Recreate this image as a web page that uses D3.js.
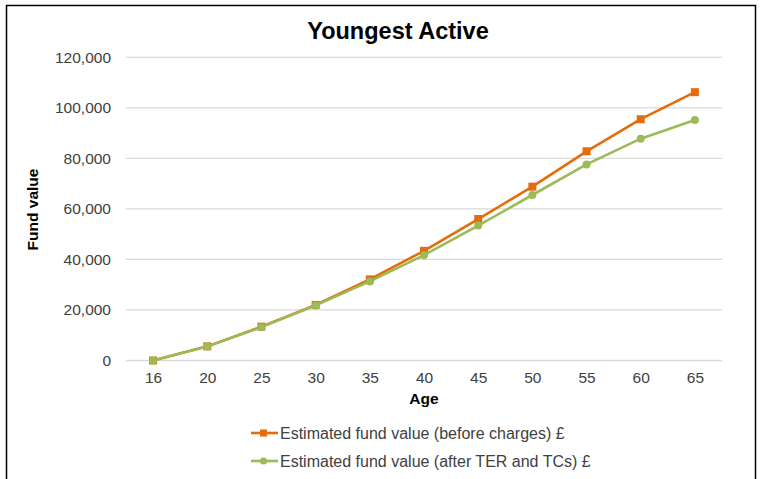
<!DOCTYPE html>
<html>
<head>
<meta charset="utf-8">
<script src="https://cdn.jsdelivr.net/npm/d3@7"></script>
<style>
  html, body { margin: 0; padding: 0; background: #fff; }
  svg { display: block; font-family: "Liberation Sans", Arial, sans-serif; }
</style>
</head>
<body>
<svg id="chart" width="761" height="479"></svg>
<script>
const chartTitle = "Youngest Active";
const xTitle = "Age";
const yTitle = "Fund value";
const ages = ["16", "20", "25", "30", "35", "40", "45", "50", "55", "60", "65"];
const beforeCharges = [0, 5600, 13400, 22000, 32100, 43400, 56000, 68800, 82800, 95500, 106200];
const afterCharges = [0, 5500, 13200, 21800, 31300, 41700, 53400, 65500, 77600, 87800, 95200];
const yTicks = [0, 20000, 40000, 60000, 80000, 100000, 120000];
const seriesNames = ["Estimated fund value (before charges) £", "Estimated fund value (after TER and TCs) £"];
const seriesColors = ["#E46C0A", "#9BBB59"];

const svg = d3.select("#chart");

// outer frame
svg.append("rect")
  .attr("x", 6.5).attr("y", 5.5).attr("width", 749).attr("height", 480)
  .attr("fill", "#fff").attr("stroke", "#000").attr("stroke-width", 1.5);

const plotLeft = 126, plotRight = 722, plotTop = 57.3, plotBottom = 360.5;

const x = d3.scalePoint().domain(ages).range([plotLeft, plotRight]).padding(0.5);
const y = d3.scaleLinear().domain([0, 120000]).range([plotBottom, plotTop]);

// gridlines
svg.append("g").selectAll("line").data(yTicks).join("line")
  .attr("x1", plotLeft).attr("x2", plotRight)
  .attr("y1", d => y(d)).attr("y2", d => y(d))
  .attr("stroke", "#D9D9D9").attr("stroke-width", 1.3);

// y axis
const yAxis = svg.append("g").attr("transform", `translate(${plotLeft},0)`)
  .call(d3.axisLeft(y).tickValues(yTicks).tickFormat(d3.format(",")).tickSize(0).tickPadding(15));
yAxis.select(".domain").remove();
yAxis.selectAll("text").attr("font-size", "15.5px").attr("fill", "#404040")
  .attr("font-family", "Liberation Sans, Arial, sans-serif");

// x axis
const xAxis = svg.append("g").attr("transform", `translate(0,${plotBottom})`)
  .call(d3.axisBottom(x).tickSize(0).tickPadding(11));
xAxis.select(".domain").remove();
xAxis.selectAll("text").attr("font-size", "15.5px").attr("fill", "#404040")
  .attr("font-family", "Liberation Sans, Arial, sans-serif");

// titles
svg.append("text").attr("x", 398).attr("y", 39).attr("text-anchor", "middle")
  .attr("font-size", "23.5px").attr("font-weight", "bold").attr("fill", "#000")
  .text(chartTitle);
svg.append("text").attr("x", (plotLeft + plotRight) / 2).attr("y", 404).attr("text-anchor", "middle")
  .attr("font-size", "15.5px").attr("font-weight", "bold").attr("fill", "#000")
  .text(xTitle);
svg.append("text").attr("transform", "translate(38,209.5) rotate(-90)").attr("text-anchor", "middle")
  .attr("font-size", "15.5px").attr("font-weight", "bold").attr("fill", "#000")
  .text(yTitle);

const line = d3.line().x((d, i) => x(ages[i])).y(d => y(d));
const series = [beforeCharges, afterCharges];

series.forEach((vals, si) => {
  const g = svg.append("g");
  g.append("path").datum(vals).attr("d", line)
    .attr("fill", "none").attr("stroke", seriesColors[si]).attr("stroke-width", 2.6)
    .attr("stroke-linejoin", "round");
  if (si === 0) {
    g.selectAll("rect").data(vals).join("rect")
      .attr("x", (d, i) => x(ages[i]) - 4).attr("y", d => y(d) - 4)
      .attr("width", 8).attr("height", 8).attr("fill", seriesColors[si]);
  } else {
    g.selectAll("circle").data(vals).join("circle")
      .attr("cx", (d, i) => x(ages[i])).attr("cy", d => y(d))
      .attr("r", 4).attr("fill", seriesColors[si]);
  }
});

// legend
const legY = [433, 461];
seriesNames.forEach((name, si) => {
  const g = svg.append("g").attr("transform", `translate(251,${legY[si]})`);
  g.append("line").attr("x1", 0).attr("x2", 27).attr("y1", 0).attr("y2", 0)
    .attr("stroke", seriesColors[si]).attr("stroke-width", 2.6);
  if (si === 0) {
    g.append("rect").attr("x", 12.5 - 3.5).attr("y", -3.5).attr("width", 7).attr("height", 7)
      .attr("fill", seriesColors[si]);
  } else {
    g.append("circle").attr("cx", 12.5).attr("cy", 0).attr("r", 3.5).attr("fill", seriesColors[si]);
  }
  g.append("text").attr("x", 29).attr("y", 5.5).attr("font-size", "16px").attr("fill", "#404040")
    .text(name);
});
</script>
</body>
</html>
